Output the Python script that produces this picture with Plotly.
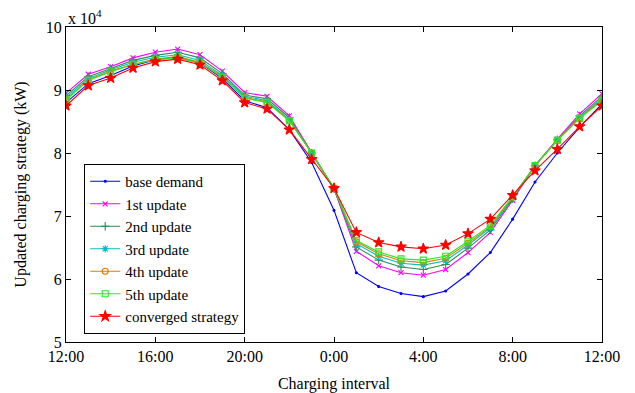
import plotly.graph_objects as go

hours = list(range(25))
tick_vals = [0, 4, 8, 12, 16, 20, 24]
tick_text = ["12:00", "16:00", "20:00", "0:00", "4:00", "8:00", "12:00"]
y_ticks = [5, 6, 7, 8, 9, 10]

base_demand = [8.80, 9.10, 9.23, 9.38, 9.48, 9.52, 9.43, 9.18, 8.83, 8.72, 8.37, 7.85, 7.09,
               6.10, 5.88, 5.77, 5.72, 5.81, 6.08, 6.42, 6.95, 7.54, 8.00, 8.41, 8.78]
update1 = [8.95, 9.25, 9.37, 9.51, 9.60, 9.65, 9.56, 9.30, 8.96, 8.90, 8.59, 8.01, 7.43,
           6.44, 6.21, 6.10, 6.06, 6.15, 6.42, 6.74, 7.25, 7.80, 8.22, 8.62, 8.94]
update2 = [8.91, 9.21, 9.34, 9.47, 9.55, 9.60, 9.51, 9.26, 8.92, 8.86, 8.56, 8.00, 7.43,
           6.51, 6.30, 6.19, 6.15, 6.23, 6.49, 6.78, 7.27, 7.80, 8.21, 8.59, 8.90]
update3 = [8.88, 9.18, 9.32, 9.44, 9.52, 9.56, 9.47, 9.23, 8.90, 8.83, 8.53, 8.00, 7.44,
           6.56, 6.36, 6.25, 6.22, 6.29, 6.54, 6.81, 7.29, 7.80, 8.21, 8.57, 8.87]
update4 = [8.85, 9.16, 9.30, 9.41, 9.49, 9.53, 9.44, 9.21, 8.88, 8.81, 8.52, 8.00, 7.44,
           6.59, 6.40, 6.29, 6.26, 6.33, 6.57, 6.83, 7.30, 7.80, 8.20, 8.56, 8.85]
update5 = [8.84, 9.15, 9.29, 9.40, 9.48, 9.51, 9.43, 9.20, 8.87, 8.80, 8.51, 8.00, 7.44,
           6.61, 6.43, 6.32, 6.30, 6.36, 6.60, 6.85, 7.31, 7.80, 8.20, 8.55, 8.83]
converged = [8.75, 9.07, 9.19, 9.35, 9.45, 9.49, 9.40, 9.15, 8.80, 8.70, 8.37, 7.90, 7.44,
             6.74, 6.58, 6.51, 6.48, 6.54, 6.72, 6.95, 7.33, 7.72, 8.06, 8.42, 8.75]

series = [
    ("base demand", base_demand, "#0000FF", "circle", 2),
    ("1st update", update1, "#FF00FF", "x-thin-open", 5),
    ("2nd update", update2, "#2E8B57", "cross-thin-open", 6),
    ("3rd update", update3, "#00BFBF", "asterisk-open", 6),
    ("4th update", update4, "#E07B00", "circle-open", 6),
    ("5th update", update5, "#22EE22", "square-open", 6),
    ("converged strategy", converged, "#FF0000", "star", 8),
]

fig = go.Figure()
for name, vals, color, sym, size in series:
    fig.add_trace(go.Scatter(
        x=hours, y=vals, name=name, mode="lines+markers",
        line=dict(color=color, width=1.1),
        marker=dict(symbol=sym, size=size, color=color, line=dict(color=color, width=1.1)),
    ))

serif = "Liberation Serif"
fig.update_layout(
    width=635, height=393,
    margin=dict(l=66, r=33, t=27, b=51),
    paper_bgcolor="white", plot_bgcolor="white",
    font=dict(family=serif, size=16, color="black"),
    showlegend=True,
    legend=dict(x=0.034, y=0.565, xanchor="left", yanchor="top",
                bordercolor="black", borderwidth=1, bgcolor="white",
                font=dict(family=serif, size=15, color="black"), tracegroupgap=0,
                itemwidth=30),
)
fig.update_xaxes(
    range=[0, 24], tickvals=tick_vals, ticktext=tick_text, automargin=False,
    showline=True, linecolor="black", linewidth=1, mirror="ticks",
    ticks="inside", ticklen=5, tickcolor="black", showgrid=False, zeroline=False,
    title=dict(text="Charging interval", font=dict(family=serif, size=16, color="black"), standoff=13),
    tickfont=dict(family=serif, size=16, color="black"),
)
fig.update_yaxes(
    range=[5, 10], tickvals=y_ticks, ticktext=[str(v) for v in y_ticks], automargin=False,
    showline=True, linecolor="black", linewidth=1, mirror="ticks",
    ticks="inside", ticklen=5, tickcolor="black", showgrid=False, zeroline=False,
    title=dict(text="Updated charging strategy (kW)", font=dict(family=serif, size=16, color="black"), standoff=15),
    tickfont=dict(family=serif, size=16, color="black"),
)
fig.add_annotation(x=0, y=1, xref="paper", yref="paper", xanchor="left", yanchor="bottom",
                   text="x 10<sup>4</sup>", showarrow=False, yshift=-2,
                   font=dict(family=serif, size=16, color="black"))

fig.write_html("out.html")
